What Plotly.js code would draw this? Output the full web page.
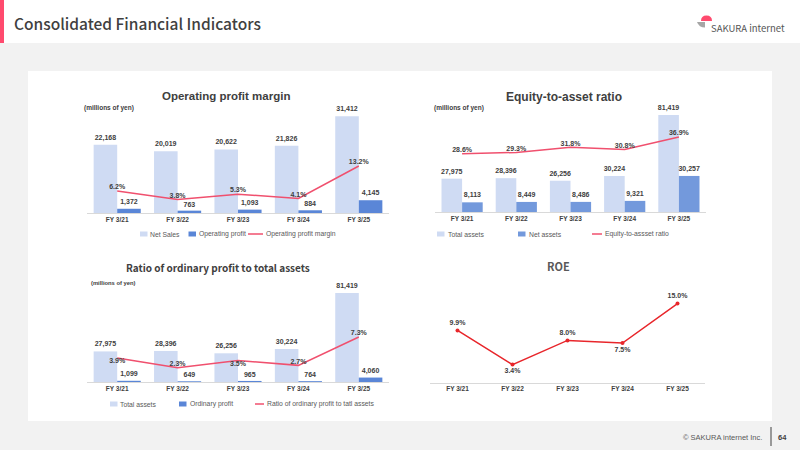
<!DOCTYPE html>
<html><head><meta charset="utf-8">
<script src="https://cdn.plot.ly/plotly-3.0.1.min.js"></script>
<style>html,body{margin:0;padding:0;background:#f2f2f2;}#chart{width:800px;height:450px;}</style>
</head><body><div id="chart"></div>
<script>
// ---- data ----
const categories = ['FY 3/21','FY 3/22','FY 3/23','FY 3/24','FY 3/25'];
const netSales = [22168,20019,20622,21826,31412];
const operatingProfit = [1372,763,1093,884,4145];
const operatingMargin = [6.2,3.8,5.3,4.1,13.2];
const totalAssets = [27975,28396,26256,30224,81419];
const netAssets = [8113,8449,8486,9321,30257];
const equityRatio = [28.6,29.3,31.8,30.8,36.9];
const ordinaryProfit = [1099,649,965,764,4060];
const ordinaryProfitRatio = [3.9,2.3,3.5,2.7,7.3];
const roe = [9.9,3.4,8.0,7.5,15.0];

// ---- helpers ----
const W=800,H=450;
const px=x=>x/W, py=y=>1-y/H;
const ARIAL='"Liberation Sans", Arial, sans-serif';
const CJK='"Noto Sans CJK JP", "Noto Sans", sans-serif';
const DARK='#404040', MID='#595959';
const LIGHT='#cfdbf3', BLUE1='#5a86d7', BLUE2='#7399dc', PINK='#f0506e', RED='#e8262b';
const labelFont={family:ARIAL,size:7,color:DARK,weight:'bold'};

function xax(a,b,anchor){return {domain:[px(a),px(b)],anchor:anchor,type:'category',range:[-0.5,4.5],showline:true,linecolor:'#d9d9d9',linewidth:1,ticks:'',showgrid:false,zeroline:false,fixedrange:true,tickfont:{family:ARIAL,size:6.5,color:DARK,weight:'bold'}};}
function yax(base,top,range,anchor){return {domain:[py(base),py(top)],range:range,anchor:anchor,visible:false,fixedrange:true};}
function y2ax(range,over,anchor){return {overlaying:over,range:range,anchor:anchor,visible:false,fixedrange:true};}
function barTrace(name,y,color,xa,ya,offset,width){return {type:'bar',name:name,x:categories,y:y,xaxis:xa,yaxis:ya,marker:{color:color},offset:offset,width:width,texttemplate:'%{y:,}',textposition:'outside',textfont:labelFont,outsidetextfont:labelFont,constraintext:'none',cliponaxis:false,hoverinfo:'skip',showlegend:false};}
function lineTrace(name,y,color,xa,ya,pos,markers){return {type:'scatter',mode:markers?'lines+markers+text':'lines+text',name:name,x:categories,y:y,xaxis:xa,yaxis:ya,line:{color:color,width:1.5},marker:{color:color,size:4},texttemplate:'%{y:.1f}%',textposition:pos,textfont:labelFont,cliponaxis:false,hoverinfo:'skip',showlegend:false};}

const traces=[
  barTrace('Net Sales',netSales,LIGHT,'x','y',-0.39,0.39),
  barTrace('Operating profit',operatingProfit,BLUE1,'x','y',0,0.39),
  lineTrace('Operating profit margin',operatingMargin,PINK,'x','y2','top center'),
  barTrace('Total assets',totalAssets,LIGHT,'x2','y3',-0.38,0.38),
  barTrace('Net assets',netAssets,BLUE2,'x2','y3',0,0.38),
  lineTrace('Equity-to-assset ratio',equityRatio,PINK,'x2','y4','top center'),
  barTrace('Total assets',totalAssets,LIGHT,'x3','y5',-0.39,0.39),
  barTrace('Ordinary profit',ordinaryProfit,BLUE1,'x3','y5',0,0.39),
  lineTrace('Ratio of ordinary profit to tatl assets',ordinaryProfitRatio,PINK,'x3','y6',['bottom center','top center','bottom center','top center','top center']),
  lineTrace('ROE',roe,RED,'x4','y7',['top center','bottom center','top center','bottom center','top center'],true)
];

// ---- annotations ----
const ann=[];
function text(t,x,y,opt){ann.push(Object.assign({text:t,xref:'paper',yref:'paper',x:px(x),y:py(y),xanchor:'left',yanchor:'middle',showarrow:false,font:{family:ARIAL,size:7,color:MID}},opt||{}));}
text('Consolidated Financial Indicators',12,23,{font:{family:CJK,size:15.5,color:DARK,weight:500}});
text('SAKURA internet',709,28,{font:{family:CJK,size:9.5,color:'#555555'}});
text('© SAKURA internet Inc.',764,437,{xanchor:'right',font:{family:ARIAL,size:7.5,color:MID}});
text('64',782,437,{xanchor:'center',font:{family:ARIAL,size:7.5,color:DARK,weight:'bold'}});
// chart titles
text('Operating profit margin',226,96,{xanchor:'center',font:{family:ARIAL,size:11.5,color:DARK,weight:'bold'}});
text('Equity-to-asset ratio',564,97,{xanchor:'center',font:{family:ARIAL,size:12,color:DARK,weight:'bold'}});
text('Ratio of ordinary profit to total assets',218,267,{xanchor:'center',font:{family:CJK,size:10,color:DARK,weight:'bold'}});
text('ROE',558,266,{xanchor:'center',font:{family:CJK,size:11,color:MID,weight:'bold'}});
text('(millions of yen)',82,108,{font:{family:ARIAL,size:6.5,color:DARK,weight:'bold'}});
text('(millions of yen)',432,108,{font:{family:ARIAL,size:6.5,color:DARK,weight:'bold'}});
text('(millions of yen)',89,283,{font:{family:ARIAL,size:5.8,color:DARK,weight:'bold'}});

// ---- shapes ----
const shapes=[];
function rect(x0,y0,x1,y1,color,layer){shapes.push({type:'rect',xref:'paper',yref:'paper',x0:px(x0),x1:px(x1),y0:py(y1),y1:py(y0),fillcolor:color,line:{width:0},layer:layer||'below'});}
function seg(x0,y0,x1,y1,color,w){shapes.push({type:'line',xref:'paper',yref:'paper',x0:px(x0),x1:px(x1),y0:py(y0),y1:py(y1),line:{color:color,width:w}});}
function pathPx(cmds,color){
  const s=cmds.map(c=>{const k=c[0];const nums=[];for(let i=1;i<c.length;i+=2){nums.push(px(c[i])+','+py(c[i+1]));}return k+nums.join(' ');}).join(' ')+' Z';
  shapes.push({type:'path',xref:'paper',yref:'paper',path:s,fillcolor:color,line:{width:0},layer:'above'});
}
rect(0,0,800,43,'#ffffff');
rect(0,0,4,43,'#ff4a6e');
rect(28,71,772,421,'#ffffff');
seg(771,427,771,446,DARK,1);
// logo
pathPx([['M',701,21],['Q',701,15.5,706.5,15.5],['Q',712,15.5,712,21]],'#ff4a6e');
pathPx([['M',697,22],['L',705,22],['L',705,27.5],['Q',699,27.5,697,22]],'#a6a6a6');

// legends (manual)
function legBox(x,y,color){rect(x,y-2.5,x+7.5,y+2.5,color,'above');}
function legLine(x0,x1,y,color){seg(x0,y,x1,y,color,1.5);}
const legFont={family:ARIAL,size:6.8,color:MID};
// top-left
legBox(140,234,LIGHT); text('Net Sales',148,234,{font:legFont});
legBox(188.5,234,BLUE1); text('Operating profit',197,234,{font:legFont});
legLine(248,263,234,PINK); text('Operating profit margin',264,234,{font:legFont});
// top-right
legBox(437,234,LIGHT); text('Total assets',446,234,{font:legFont});
legBox(518,234,BLUE2); text('Net assets',527,234,{font:legFont});
legLine(592,602,234,PINK); text('Equity-to-assset ratio',603,234,{font:legFont});
// bottom-left
legBox(110,404,LIGHT); text('Total assets',118,404,{font:legFont});
legBox(179,404,BLUE1); text('Ordinary profit',188,404,{font:legFont});
legLine(255,264,404,PINK); text('Ratio of ordinary profit to tatl assets',265,404,{font:legFont});

const layout={
  width:W,height:H,margin:{l:0,r:0,t:0,b:0},
  paper_bgcolor:'#f2f2f2',plot_bgcolor:'rgba(0,0,0,0)',
  showlegend:false,hovermode:false,barmode:'group',
  xaxis:xax(87,389,'y'),
  yaxis:yax(213,110,[0,103/0.00308],'x'),
  yaxis2:y2ax([0,103/3.56],'y','x'),
  xaxis2:xax(435,706,'y3'),
  yaxis3:yax(212,110,[0,102/0.0011914],'x2'),
  yaxis4:y2ax([0,102/2.0325],'y3','x2'),
  xaxis3:xax(87,389,'y5'),
  yaxis5:yax(382,285,[0,97/0.001093],'x3'),
  yaxis6:y2ax([0,97/6.16],'y5','x3'),
  xaxis4:xax(430,705,'y7'),
  yaxis7:yax(382.5,285,[0,97.5/5.26],'x4'),
  annotations:ann,shapes:shapes
};
Plotly.newPlot('chart',traces,layout,{staticPlot:true,displayModeBar:false});
</script></body></html>
